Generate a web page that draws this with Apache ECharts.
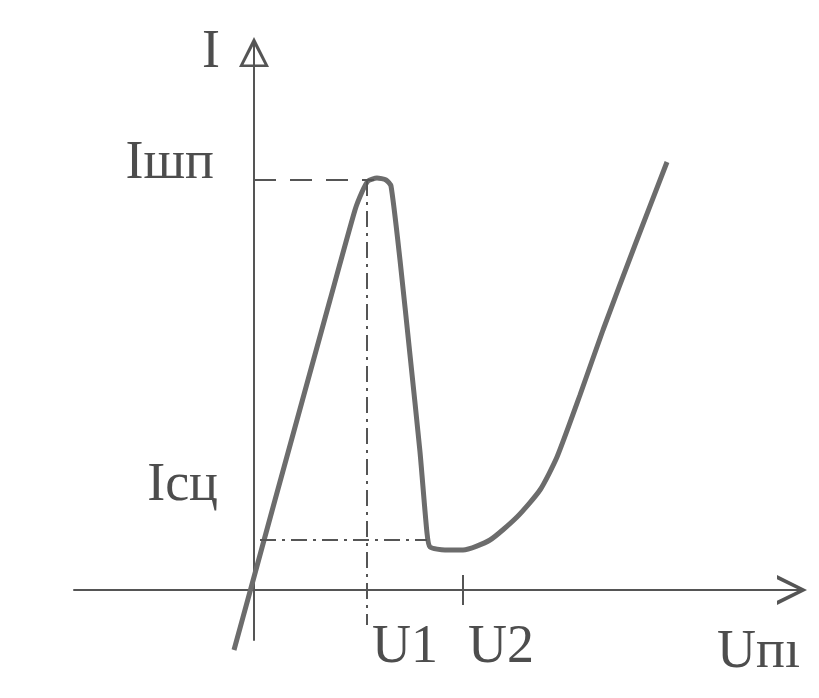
<!DOCTYPE html>
<html>
<head>
<meta charset="utf-8">
<script src="https://cdn.jsdelivr.net/npm/echarts@6/dist/echarts.min.js"></script>
<style>
  html, body { margin: 0; padding: 0; background: #fff; }
  #chart { width: 819px; height: 698px; }
</style>
</head>
<body>
<div id="chart"></div>
<script>
// Tunnel diode I–V characteristic, arbitrary units
const voltage = [-2.0, -0.3, 2.1, 7.6, 10.1, 10.8, 11.4, 12.3, 13.2, 13.7, 14.6, 15.6, 16.6, 17.3, 17.6, 19.1, 20.9, 23.6, 26.3, 28.6, 30.3, 32.6, 34.9, 38.1, 41.3];
const current = [-6.0, 0.2, 9.0, 29.0, 38.0, 39.8, 40.9, 41.2, 41.0, 40.4, 33.0, 23.5, 13.8, 5.7, 4.3, 4.0, 4.0, 5.0, 7.3, 10.0, 13.3, 19.5, 26.0, 34.5, 42.8];

// characteristic points
const peakCurrent = 41.0;
const valleyCurrent = 5.0;
const peakVoltage = 11.3;
const valleyVoltage = 20.9;

const xTickLabels = ['U1', 'U2'];
const yTickLabels = ['Iшп', 'Iсц'];
const axisNames = ['Uпı', 'I'];

const ink = '#4d4d4d';
const lineInk = '#555555';
const curveInk = '#6c6c6c';
const font = 'Liberation Serif';
const fontSize = 54;

const hollowArrow = 'path://M50 0 L100 100 L0 100 Z M50 24 L15 92 L85 92 Z';
const openArrow = 'path://M50 0 L100 100 L86 100 L50 26 L14 100 L0 100 Z';

const textStyle = { fontFamily: font, fontSize: fontSize, color: ink };

// label raised above its anchor by `lift` pixels
function liftedLabel(text, lift, distance) {
  return {
    show: true, position: 'start', distance: distance,
    formatter: '{t|' + text + '}\n{g| }',
    rich: { t: { ...textStyle }, g: { height: lift * 2, fontSize: 1 } }
  };
}

const chart = echarts.init(document.getElementById('chart'), null, { renderer: 'canvas' });

chart.setOption({
  animation: false,
  backgroundColor: '#ffffff',
  grid: { left: 74, right: 15, top: 40, bottom: 58, outerBoundsMode: 'none' },
  xAxis: {
    type: 'value', min: -18, max: 55,
    splitLine: { show: false },
    axisTick: { show: false },
    axisLine: {
      onZero: true,
      lineStyle: { color: lineInk, width: 2 },
      symbol: ['none', openArrow],
      symbolSize: [30, 32],
      symbolOffset: [0, -12]
    },
    axisLabel: {
      customValues: [peakVoltage, valleyVoltage],
      formatter: v => (v === peakVoltage ? xTickLabels[0] : xTickLabels[1]),
      align: 'left', margin: -19, padding: [0, 0, 0, 5],
      ...textStyle
    },
    name: axisNames[0], nameLocation: 'end', nameGap: -4,
    nameTextStyle: { ...textStyle, align: 'right', verticalAlign: 'top', padding: [36, 0, 0, 0] }
  },
  yAxis: {
    type: 'value', min: -5, max: 55,
    splitLine: { show: false },
    axisTick: { show: false },
    axisLabel: { show: false },
    axisLine: {
      onZero: true,
      lineStyle: { color: lineInk, width: 2 },
      symbol: ['none', hollowArrow],
      symbolSize: [30, 30],
      symbolOffset: [0, -12]
    },
    name: axisNames[1], nameLocation: 'end', nameGap: -13,
    nameTextStyle: { ...textStyle, align: 'right', verticalAlign: 'middle', padding: [0, 34, 0, 0] }
  },
  series: [
    {
      type: 'line',
      data: voltage.map((u, i) => [u, current[i]]),
      showSymbol: false,
      smooth: 0.2,
      clip: false,
      z: 3,
      lineStyle: { color: curveInk, width: 5 }
    },
    {
      type: 'line',
      data: [],
      silent: true,
      markLine: {
        silent: true,
        symbol: ['none', 'none'],
        animation: false,
        lineStyle: { color: lineInk, width: 2 },
        label: { show: false },
        data: [
          // peak current level
          [
            { coord: [0, peakCurrent],
              lineStyle: { type: [22, 14], color: lineInk, width: 2 },
              label: liftedLabel(yTickLabels[0], 16, 40) },
            { coord: [12.0, peakCurrent] }
          ],
          // peak voltage
          [
            { coord: [peakVoltage, peakCurrent], lineStyle: { type: [16, 6, 3, 6], color: lineInk, width: 2 } },
            { coord: [peakVoltage, -3.5] }
          ],
          // valley current level
          [
            { coord: [0.6, valleyCurrent],
              lineStyle: { type: [16, 6, 3, 6], color: lineInk, width: 2 },
              label: liftedLabel(yTickLabels[1], 54, 42) },
            { coord: [17.3, valleyCurrent] }
          ],
          // valley voltage tick
          [
            { coord: [valleyVoltage, 1.5], lineStyle: { type: 'solid', color: lineInk, width: 2 } },
            { coord: [valleyVoltage, -1.5] }
          ]
        ]
      }
    }
  ]
});
</script>
</body>
</html>
